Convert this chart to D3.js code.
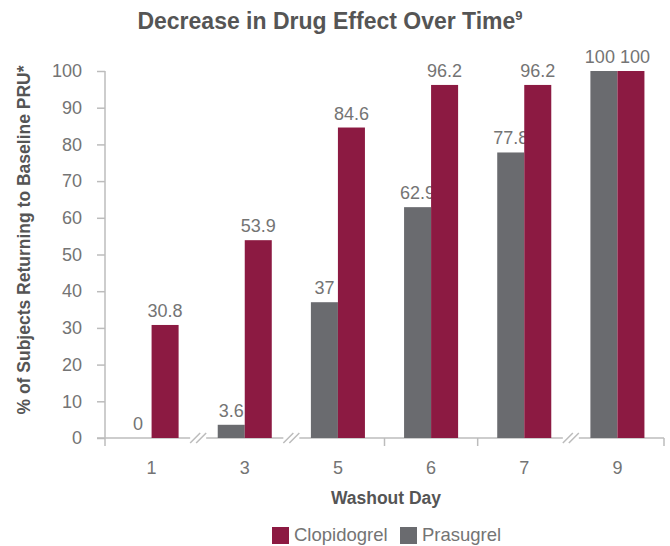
<!DOCTYPE html>
<html>
<head>
<meta charset="utf-8">
<script src="https://cdn.jsdelivr.net/npm/d3@7"></script>
<style>
  body { margin: 0; background: #fff; }
  svg text { font-family: "Liberation Sans", Arial, sans-serif; }
</style>
</head>
<body>
<svg id="chart" width="670" height="546"></svg>
<script>
// data
const days = ["1", "3", "5", "6", "7", "9"];
const prasugrel = [0, 3.6, 37, 62.9, 77.8, 100];
const clopidogrel = [30.8, 53.9, 84.6, 96.2, 96.2, 100];
const yTicks = [0, 10, 20, 30, 40, 50, 60, 70, 80, 90, 100];
const breaksAfter = [0, 1, 4]; // axis break between these day indexes and the next

const red = "#8c1a42", grey = "#6a6b6f", axisCol = "#bcbcbc", txt = "#555", numCol = "#747474";

const svg = d3.select("#chart");
const mLeft = 105, mRight = 664, mTop = 71, mBottom = 438;

const x = d3.scaleBand().domain(days).range([mLeft, mRight]).paddingInner(0.42).paddingOuter(0.21);
const xs = d3.scaleBand().domain(["Prasugrel", "Clopidogrel"]).range([0, x.bandwidth()]);
const y = d3.scaleLinear().domain([0, 100]).range([mBottom, mTop]);

// title
const title = svg.append("text").attr("x", 330).attr("y", 29).attr("text-anchor", "middle")
  .attr("font-size", 23).attr("font-weight", "bold").attr("fill", txt)
  .text("Decrease in Drug Effect Over Time");
title.append("tspan").attr("font-size", 13).attr("dy", -9).text("9");

// y axis
const yAxis = svg.append("g").attr("transform", `translate(${mLeft},0)`)
  .call(d3.axisLeft(y).tickValues(yTicks).tickSize(8).tickPadding(15));
yAxis.select(".domain").attr("stroke", axisCol).attr("stroke-width", 1.5).attr("d", `M0,${mTop}V${mBottom}`);
yAxis.selectAll(".tick line").attr("stroke", axisCol).attr("stroke-width", 1.5);
yAxis.selectAll(".tick text").attr("font-size", 18).attr("fill", numCol)
  .attr("font-family", "Liberation Sans, Arial, sans-serif");

svg.append("text")
  .attr("transform", `translate(30,240) rotate(-90)`)
  .attr("text-anchor", "middle").attr("font-size", 17.5).attr("font-weight", "bold").attr("fill", txt)
  .text("% of Subjects Returning to Baseline PRU*");

// x axis, drawn in segments with breaks
const step = x.step();
const bounds = days.map((d, i) => x(d) - x.paddingInner() * step / 2);
bounds.push(mRight);
bounds[0] = mLeft;
const xa = svg.append("g");
let segStart = mLeft - 8;
bounds.slice(1, -1).forEach((b, j) => {
  if (breaksAfter.includes(j)) {
    xa.append("line").attr("x1", segStart).attr("x2", b - 8).attr("y1", mBottom).attr("y2", mBottom);
    [-3, 3].forEach(o => {
      xa.append("line").attr("x1", b + o - 5).attr("x2", b + o + 5)
        .attr("y1", mBottom + 5).attr("y2", mBottom - 5);
    });
    segStart = b + 8;
  } else {
    xa.append("line").attr("x1", b).attr("x2", b).attr("y1", mBottom).attr("y2", mBottom + 8);
  }
});
xa.append("line").attr("x1", segStart).attr("x2", mRight).attr("y1", mBottom).attr("y2", mBottom);
[mLeft, mRight].forEach(b => xa.append("line").attr("x1", b).attr("x2", b).attr("y1", mBottom).attr("y2", mBottom + 8));
xa.selectAll("line").attr("stroke", axisCol).attr("stroke-width", 1.5);

svg.append("g").selectAll("text").data(days).join("text")
  .attr("x", d => x(d) + x.bandwidth() / 2).attr("y", 474).attr("text-anchor", "middle")
  .attr("font-size", 18).attr("fill", numCol)
  .text(d => d);

svg.append("text").attr("x", 386).attr("y", 504).attr("text-anchor", "middle")
  .attr("font-size", 17.5).attr("font-weight", "bold").attr("fill", txt).text("Washout Day");

// bars
const series = [
  { key: "Prasugrel", vals: prasugrel, color: grey },
  { key: "Clopidogrel", vals: clopidogrel, color: red }
];
const labels = [];
series.forEach(s => {
  const g = svg.append("g");
  g.selectAll("rect").data(s.vals).join("rect")
    .attr("x", (v, i) => x(days[i]) + xs(s.key)).attr("width", xs.bandwidth())
    .attr("y", v => y(v)).attr("height", v => y(0) - y(v)).attr("fill", s.color);
  labels.push(g.selectAll("text").data(s.vals).join("text")
    .attr("x", (v, i) => x(days[i]) + xs(s.key) + xs.bandwidth() / 2)
    .attr("y", v => y(v) - 8).attr("text-anchor", "middle")
    .attr("font-size", 18).attr("fill", numCol)
    .text(v => v));
});
// push apart labels of equal-height pairs so they do not touch
days.forEach((d, i) => {
  if (prasugrel[i] !== clopidogrel[i]) return;
  const a = labels[0].nodes()[i], b = labels[1].nodes()[i];
  const need = (a.getComputedTextLength() + b.getComputedTextLength()) / 2 + 5 - xs.step();
  if (need > 0) {
    d3.select(a).attr("dx", -need / 2);
    d3.select(b).attr("dx", need / 2);
  }
});

// legend
const legend = [{ key: "Clopidogrel", color: red, x: 272 }, { key: "Prasugrel", color: grey, x: 400 }];
legend.forEach(l => {
  svg.append("rect").attr("x", l.x).attr("y", 527).attr("width", 17).attr("height", 17).attr("fill", l.color);
  svg.append("text").attr("x", l.x + 22).attr("y", 541).attr("font-size", 18.5).attr("fill", numCol)
    .text(l.key);
});
</script>
</body>
</html>
